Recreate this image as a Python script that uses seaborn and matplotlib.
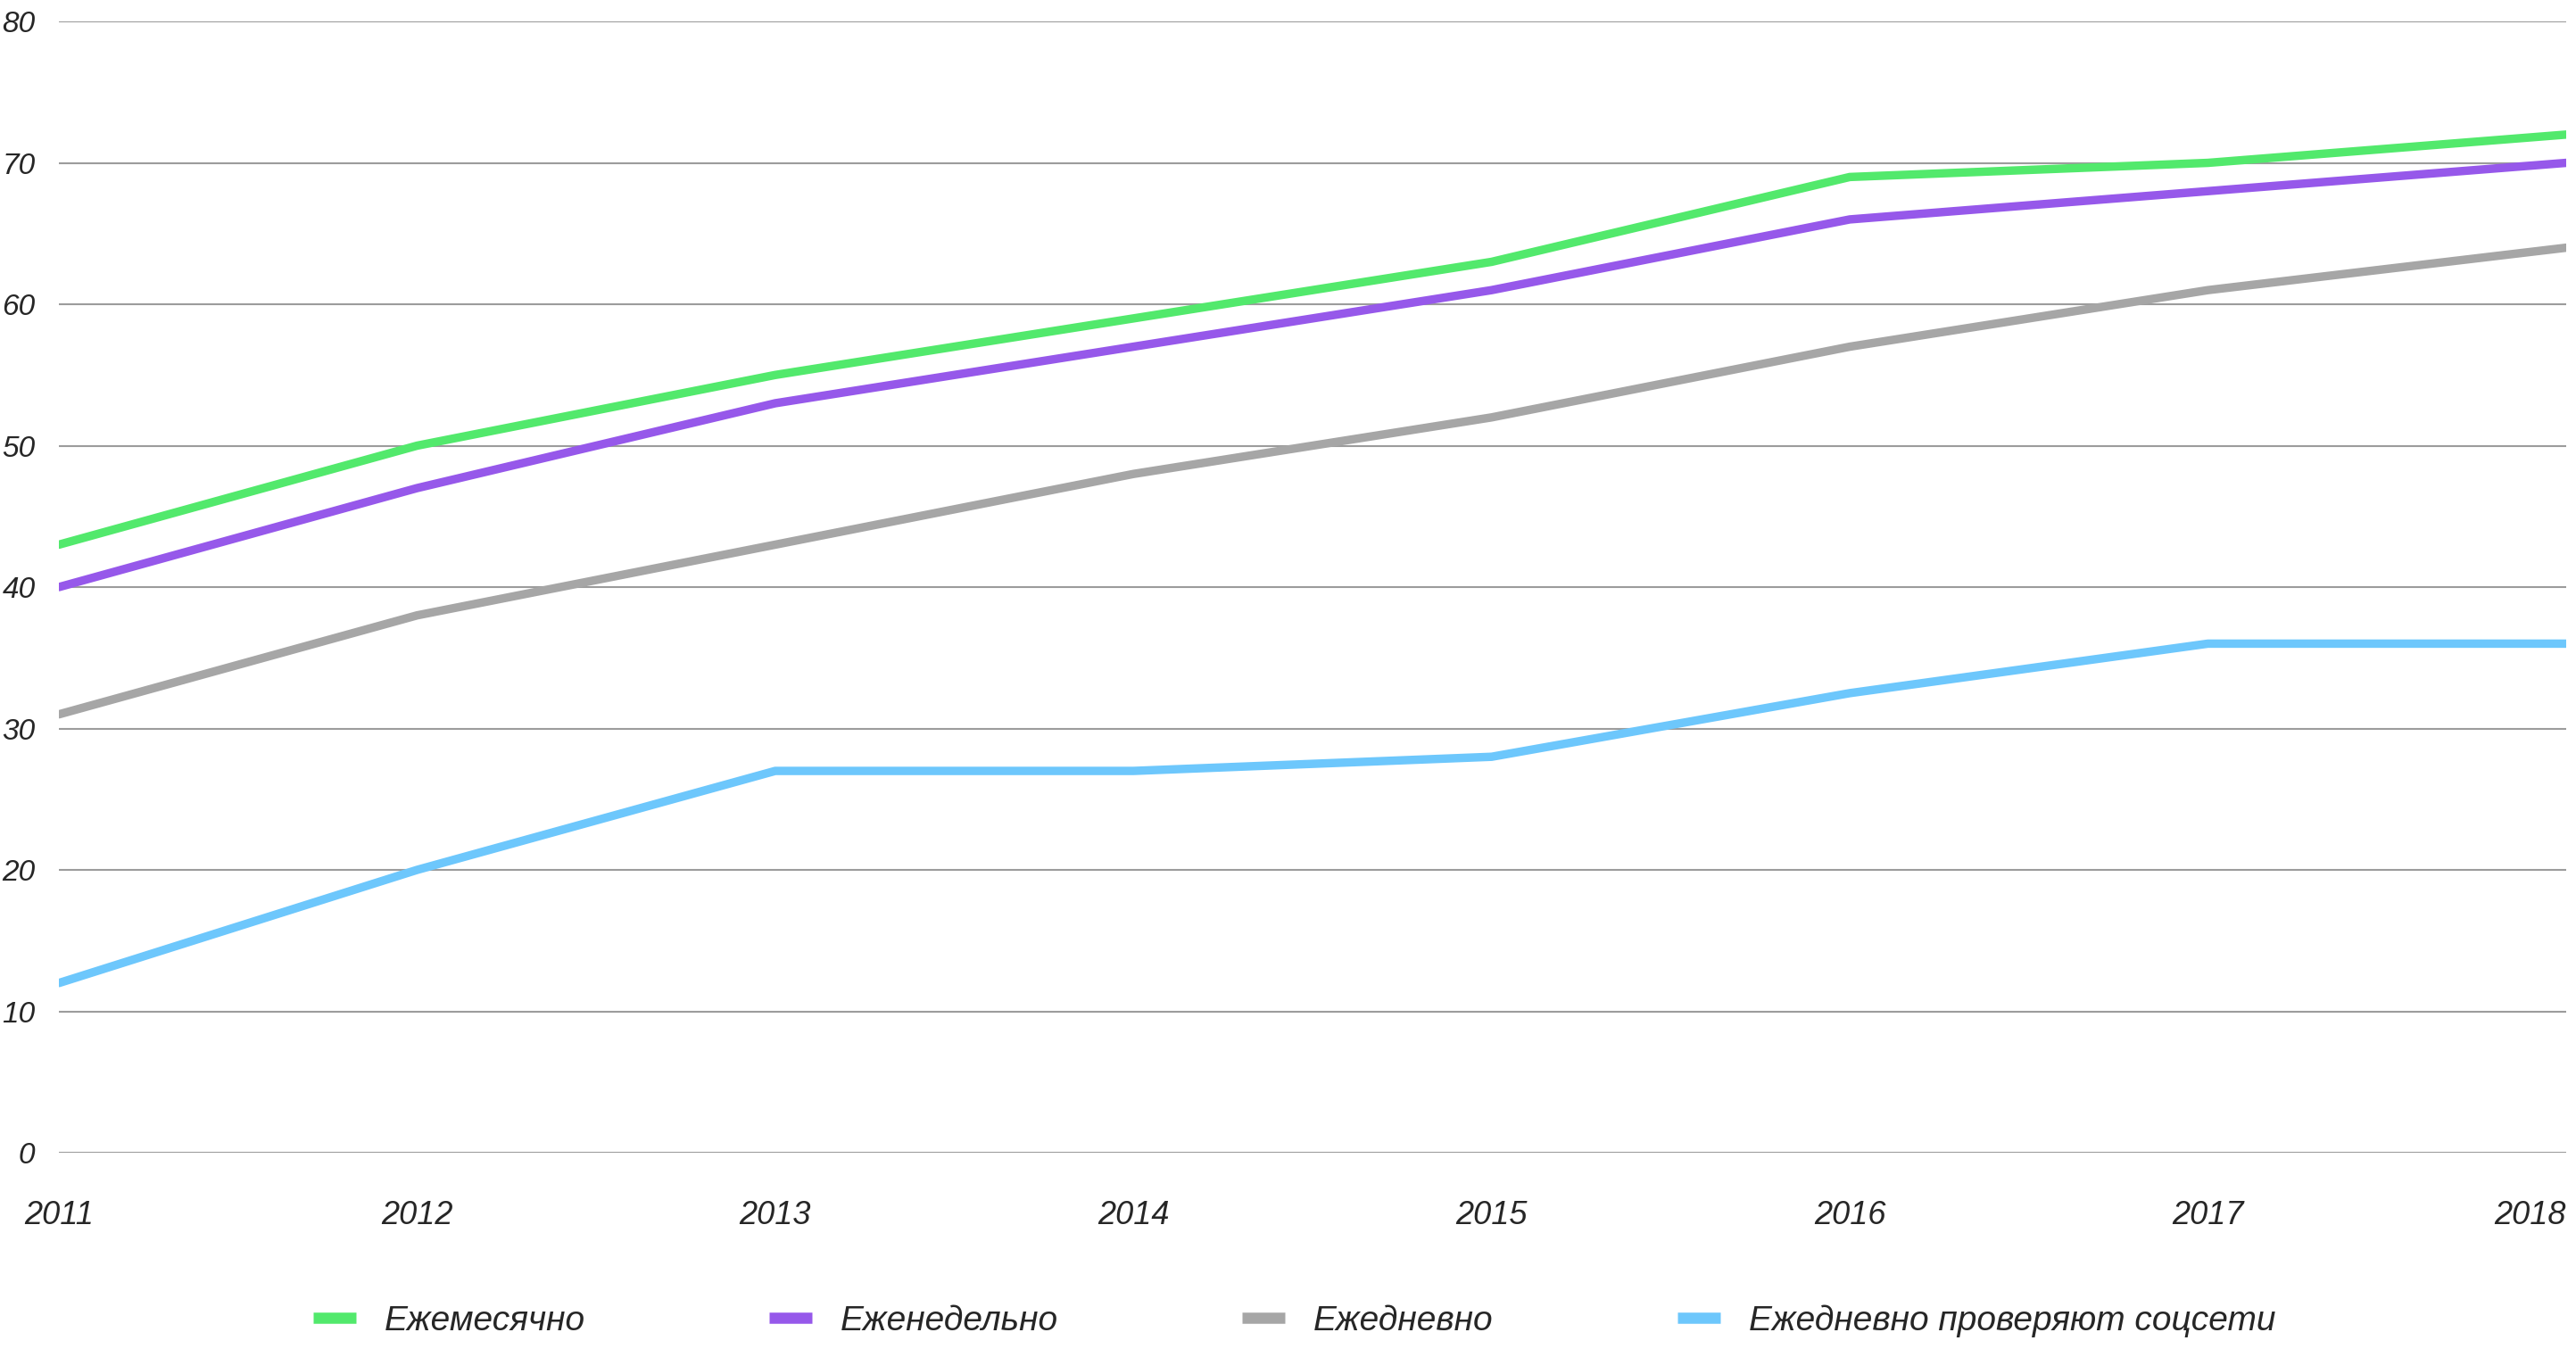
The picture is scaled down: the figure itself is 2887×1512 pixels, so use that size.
import numpy as np
import pandas as pd
import matplotlib
matplotlib.use("Agg")
import matplotlib.pyplot as plt
from matplotlib.lines import Line2D
import seaborn as sns

## Datos

years = [2011, 2012, 2013, 2014, 2015, 2016, 2017, 2018]

monthly = [43, 50, 55, 59, 63, 69, 70, 72]
weekly = [40, 47, 53, 57, 61, 66, 68, 70]
daily = [31, 38, 43, 48, 52, 57, 61, 64]
daily_social = [12, 20, 27, 27, 28, 32.5, 36, 36]

series_names = ["Ежемесячно", "Еженедельно", "Ежедневно", "Ежедневно проверяют соцсети"]
palette = ["#52E96C", "#9658EA", "#A6A6A6", "#6DC7FC"]

y_ticks = [0, 10, 20, 30, 40, 50, 60, 70, 80]

df = pd.DataFrame({
    "year": years * 4,
    "value": monthly + weekly + daily + daily_social,
    "series": [s for s in series_names for _ in years],
})

## Gráfico

sns.set_theme(style="white")
plt.rcParams["font.family"] = ["Liberation Sans", "DejaVu Sans"]

fig = plt.figure(figsize=(28.87, 15.12), dpi=100)
ax = fig.add_axes([0.02286, 0.1455, 0.9733, 0.8386])

for y in y_ticks:
    ax.axhline(y, color="#9c9c9c", lw=1.5, zorder=0)

sns.lineplot(data=df, x="year", y="value", hue="series", hue_order=series_names,
             palette=palette, lw=6.8, ax=ax, legend=False, sort=False,
             solid_capstyle="round")

ax.set_xlim(2011, 2018)
ax.set_ylim(0, 80)
ax.set_xticks(years)
ax.set_xticklabels([str(y) for y in years], fontsize=26, style="italic")
ax.set_yticks(y_ticks)
ax.set_yticklabels([str(y) for y in y_ticks], fontsize=24, style="italic")
ax.get_xticklabels()[-1].set_ha("right")
ax.tick_params(axis="x", length=0, pad=38)
ax.tick_params(axis="y", length=0, pad=19)
ax.set_xlabel("")
ax.set_ylabel("")
ax.grid(False)
for sp in ax.spines.values():
    sp.set_visible(False)

handles = [Line2D([0], [0], color=c, lw=9, solid_capstyle="butt") for c in palette]
fig.legend(handles, series_names, loc="center", bbox_to_anchor=(0.5025, 0.021),
           ncol=4, frameon=False, prop={"size": 28, "style": "italic"},
           handlelength=1.23, handletextpad=0.82, columnspacing=5.3)

plt.savefig("out.png", dpi=100)
